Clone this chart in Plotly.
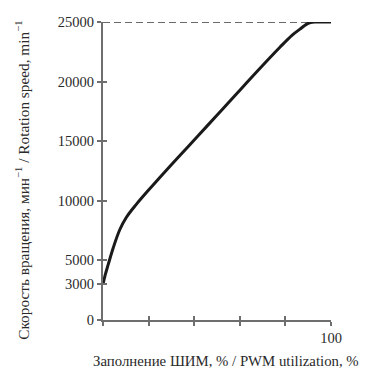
import plotly.graph_objects as go

# PWM utilization (%) and rotation speed (min^-1)
pwm = [0, 1, 2.2, 4.4, 7.3, 10.2, 14.6, 20, 27, 33, 39.5, 46, 52, 58, 63, 70, 77.6, 83, 86.4, 89, 91, 93, 100]
speed = [3000, 3800, 4600, 6000, 7550, 8600, 9700, 10900, 12400, 13650, 15000, 16350, 17600, 18850, 19900,
         21350, 22880, 23900, 24400, 24780, 24950, 25000, 25000]

# Reference (max speed) dashed line
ref_x = [0, 91]
ref_y = [25000, 25000]

x_ticks = [0, 20, 40, 60, 80, 100]
x_ticktext = ["", "", "", "", "", "100"]
y_ticks = [0, 3000, 5000, 10000, 15000, 20000, 25000]
y_ticktext = ["0", "3000", "5000", "10000", "15000", "20000", "25000"]

FONT = "Liberation Serif"
AX = "#6e6e6e"
TXT = "#2a2a2a"

fig = go.Figure()
fig.add_trace(go.Scatter(x=ref_x, y=ref_y, mode="lines",
                         line=dict(color="#3a3a3a", width=1.4, dash="7px,4px"),
                         cliponaxis=False, hoverinfo="skip"))
fig.add_trace(go.Scatter(x=pwm, y=speed, mode="lines",
                         line=dict(color="#1a1a1a", width=3, shape="spline", smoothing=1),
                         cliponaxis=False))
# invisible trace for overlay axes (ticks crossing the axis line)
fig.add_trace(go.Scatter(x=[0], y=[0], xaxis="x2", yaxis="y2", mode="markers",
                         marker=dict(opacity=0), hoverinfo="skip"))

# page body has an 8px margin, so the figure is 8px smaller and margins shifted
fig.update_layout(
    width=359, height=366,
    margin=dict(l=95, r=36, t=6, b=54),
    paper_bgcolor="white", plot_bgcolor="white",
    showlegend=False,
    font=dict(family=FONT, size=14.5, color=TXT),
    xaxis=dict(range=[0, 100], tickvals=x_ticks, ticktext=x_ticktext,
               showgrid=False, zeroline=False, showline=True, linecolor=AX, linewidth=2,
               ticks="outside", ticklen=4, tickwidth=2, tickcolor=AX,
               ticklabeloverflow="allow",
               tickfont=dict(family=FONT, size=14.5, color=TXT)),
    yaxis=dict(range=[0, 25000], tickvals=y_ticks, ticktext=y_ticktext,
               showgrid=False, zeroline=False, showline=True, linecolor=AX, linewidth=2,
               ticks="outside", ticklen=4, tickwidth=2, tickcolor=AX,
               ticklabeloverflow="allow",
               tickfont=dict(family=FONT, size=14.5, color=TXT)),
    xaxis2=dict(range=[0, 100], overlaying="x", tickvals=x_ticks, showticklabels=False,
                showgrid=False, zeroline=False, showline=False,
                ticks="inside", ticklen=4, tickwidth=2, tickcolor=AX),
    yaxis2=dict(range=[0, 25000], overlaying="y", tickvals=y_ticks, showticklabels=False,
                showgrid=False, zeroline=False, showline=False,
                ticks="inside", ticklen=4, tickwidth=2, tickcolor=AX),
)

# plot area spans page px x 103..331, y 14..320
fig.add_annotation(text="Заполнение ШИМ, % / PWM utilization, %",
                   xref="paper", yref="paper", x=(226 - 103) / 228, y=-(362 - 320) / 306,
                   showarrow=False, xanchor="center", yanchor="middle",
                   font=dict(family=FONT, size=14.8, color=TXT))
fig.add_annotation(text="Скорость вращения, мин<sup>−1</sup> / Rotation speed, min<sup>−1</sup>",
                   xref="paper", yref="paper", x=(22 - 103) / 228, y=(320 - 177) / 306,
                   showarrow=False, xanchor="center", yanchor="middle", textangle=-90,
                   font=dict(family=FONT, size=15.3, color=TXT))

fig.write_html("out.html")
